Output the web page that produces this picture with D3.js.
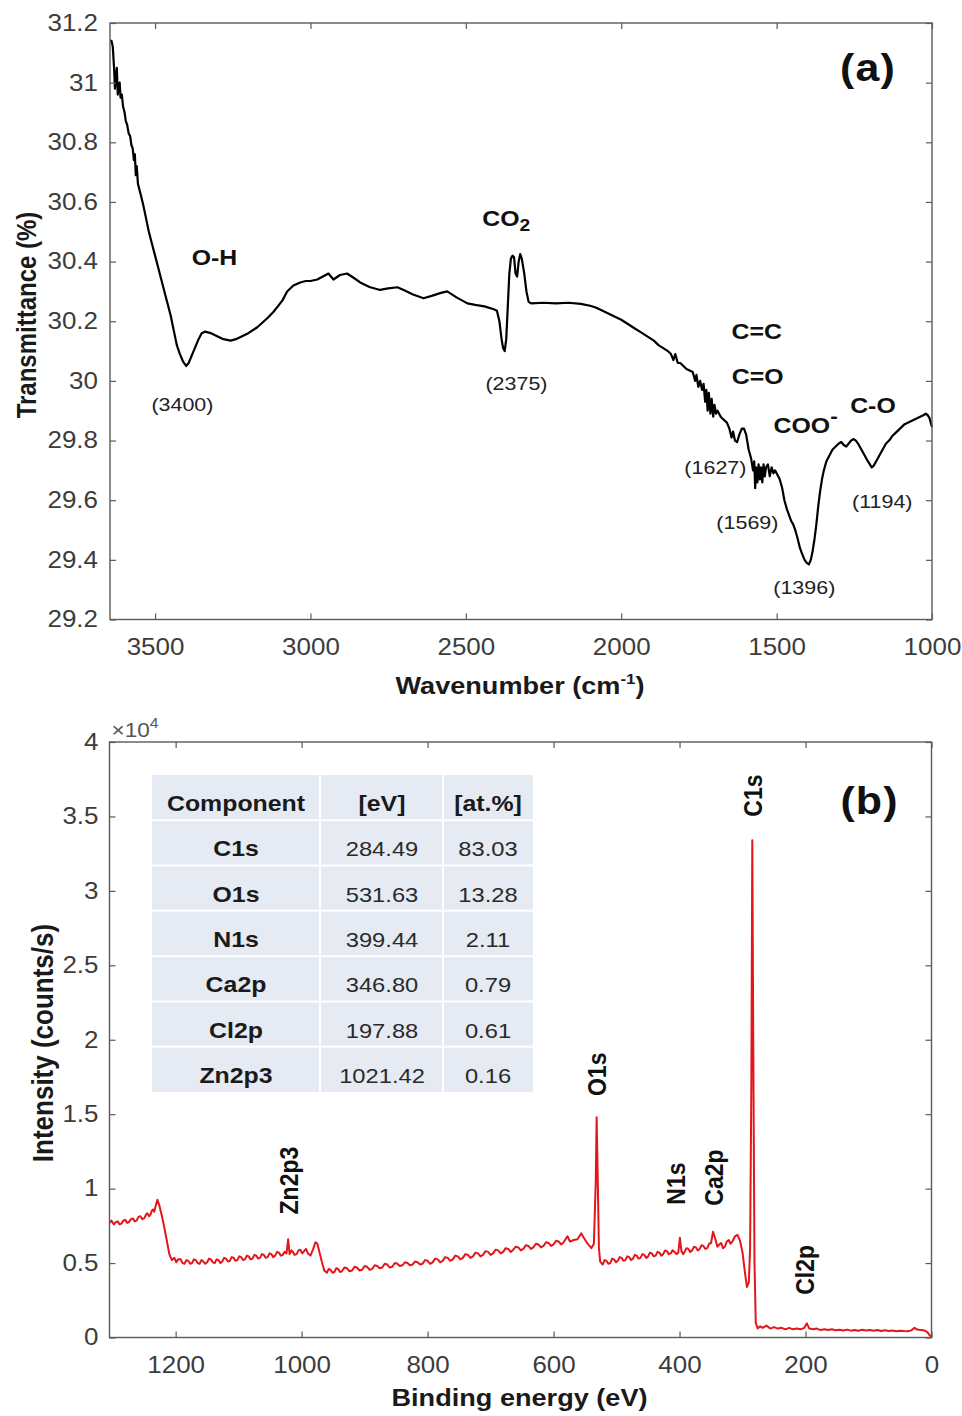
<!DOCTYPE html>
<html>
<head>
<meta charset="utf-8">
<script src="https://cdn.jsdelivr.net/npm/d3@7"></script>
<style>
  html, body { margin: 0; padding: 0; background: #fff; }
  svg { display: block; }
</style>
</head>
<body>
<svg id="fig" width="962" height="1416"></svg>
<script>
// ---------------- Panel (a): FTIR spectrum ----------------
// [wavenumber (cm-1), transmittance (%)]
const ftirSpectrum = [
  [3645,31.14],[3640,31.14],[3636,31.12],[3632,31.05],[3629,30.98],[3626,31.02],[3623,31.05],[3620,30.96],
  [3617,30.99],[3614,31.00],[3611,30.95],[3607,30.96],[3603,30.92],[3598,30.90],[3594,30.87],[3590,30.86],
  [3585,30.83],[3580,30.82],[3576,30.79],[3572,30.78],[3568,30.74],[3565,30.76],[3562,30.69],[3559,30.72],
  [3555,30.66],[3550,30.64],[3545,30.62],[3538,30.59],[3530,30.55],[3520,30.50],[3510,30.46],[3500,30.42],
  [3490,30.38],[3480,30.34],[3470,30.30],[3460,30.26],[3450,30.22],[3440,30.17],[3430,30.12],[3420,30.09],
  [3410,30.065],[3400,30.05],[3392,30.06],[3384,30.08],[3376,30.10],[3368,30.12],[3360,30.14],[3350,30.16],
  [3340,30.165],[3320,30.16],[3300,30.15],[3280,30.14],[3257,30.135],[3240,30.14],[3220,30.15],[3200,30.16],
  [3171,30.18],[3155,30.195],[3139,30.21],[3120,30.23],[3105,30.25],[3090,30.27],[3075,30.30],[3055,30.32],
  [3033,30.33],[3015,30.335],[3000,30.335],[2978,30.34],[2960,30.35],[2942,30.36],[2926,30.34],[2905,30.355],
  [2882,30.36],[2860,30.345],[2840,30.33],[2810,30.315],[2776,30.305],[2750,30.31],[2720,30.314],[2700,30.305],
  [2670,30.29],[2636,30.277],[2610,30.285],[2580,30.295],[2560,30.30],[2530,30.28],[2495,30.26],[2470,30.255],
  [2440,30.25],[2410,30.24],[2400,30.235],[2392,30.20],[2385,30.14],[2380,30.11],[2375,30.10],[2370,30.14],
  [2365,30.25],[2360,30.36],[2355,30.41],[2350,30.42],[2345,30.415],[2340,30.36],[2335,30.35],[2330,30.40],
  [2325,30.425],[2320,30.41],[2312,30.36],[2305,30.30],[2298,30.265],[2290,30.26],[2250,30.262],[2210,30.26],
  [2170,30.262],[2130,30.258],[2100,30.252],[2080,30.245],[2060,30.235],[2040,30.225],[2020,30.215],[2000,30.205],
  [1985,30.195],[1970,30.185],[1955,30.175],[1940,30.165],[1925,30.155],[1910,30.145],[1895,30.135],[1880,30.12],
  [1865,30.11],[1850,30.10],[1840,30.09],[1832,30.07],[1826,30.09],[1818,30.06],[1810,30.06],[1800,30.05],
  [1790,30.04],[1780,30.035],[1770,30.03],[1762,30.00],[1758,30.02],[1752,29.98],[1746,30.00],[1740,29.97],
  [1735,29.99],[1730,29.93],[1726,29.97],[1722,29.90],[1718,29.96],[1713,29.89],[1709,29.94],[1704,29.88],
  [1700,29.92],[1695,29.89],[1690,29.90],[1680,29.88],[1670,29.87],[1660,29.86],[1652,29.84],[1645,29.81],
  [1640,29.83],[1634,29.80],[1627,29.795],[1620,29.82],[1612,29.84],[1605,29.84],[1598,29.82],[1590,29.77],
  [1582,29.74],[1576,29.70],[1572,29.73],[1569,29.64],[1566,29.71],[1562,29.66],[1558,29.72],[1554,29.67],
  [1550,29.71],[1546,29.66],[1542,29.72],[1538,29.68],[1534,29.71],[1528,29.72],[1522,29.68],[1516,29.71],
  [1510,29.69],[1505,29.70],[1500,29.69],[1490,29.67],[1482,29.64],[1475,29.60],[1467,29.57],[1460,29.55],
  [1453,29.53],[1447,29.52],[1440,29.50],[1432,29.47],[1425,29.44],[1418,29.42],[1410,29.40],[1403,29.39],
  [1396,29.385],[1390,29.40],[1384,29.43],[1378,29.47],[1372,29.52],[1366,29.58],[1360,29.63],[1354,29.67],
  [1348,29.70],[1340,29.73],[1330,29.75],[1320,29.77],[1310,29.78],[1300,29.79],[1292,29.795],[1284,29.785],
  [1276,29.78],[1268,29.79],[1260,29.80],[1252,29.805],[1245,29.80],[1238,29.79],[1230,29.775],[1222,29.76],
  [1214,29.745],[1206,29.73],[1200,29.72],[1194,29.71],[1188,29.715],[1180,29.73],[1172,29.745],[1164,29.76],
  [1156,29.775],[1148,29.79],[1138,29.80],[1128,29.815],[1118,29.825],[1108,29.835],[1098,29.845],[1088,29.855],
  [1078,29.86],[1068,29.865],[1058,29.87],[1048,29.875],[1038,29.88],[1028,29.885],[1020,29.89],[1014,29.885],
  [1008,29.875],[1004,29.86],[1000,29.845]
];
const ftirXTicks = [3500, 3000, 2500, 2000, 1500, 1000];
const ftirYTicks = [29.2, 29.4, 29.6, 29.8, 30, 30.2, 30.4, 30.6, 30.8, 31, 31.2];
const ftirYTickLabels = ["29.2","29.4","29.6","29.8","30","30.2","30.4","30.6","30.8","31","31.2"];

// band assignments: [text, wavenumber, transmittance]
const ftirBandLabels = [
  ["O-H", 3309, 30.413],
  ["C=C", 1564, 30.166],
  ["C=O", 1561, 30.015],
  ["C-O", 1190, 29.918]
];
// peak positions: [text, wavenumber, transmittance]
const ftirPeakLabels = [
  ["(3400)", 3412, 29.921],
  ["(2375)", 2337, 29.992],
  ["(1627)", 1697, 29.710],
  ["(1569)", 1594, 29.526],
  ["(1396)", 1411, 29.307],
  ["(1194)", 1160, 29.596]
];

// ---------------- Panel (b): XPS survey ----------------
// [binding energy (eV), intensity (counts/s)]
const xpsSurvey = [
  [1305,7700],[1302,7850],[1298,7600],[1295,7750],[1292,7800],[1289,7600],[1286,7650],[1283,7850],
  [1280,7900],[1277,7700],[1274,7750],[1271,7950],[1268,8000],[1265,7800],[1262,7850],[1259,8100],
  [1256,8150],[1253,7950],[1250,8000],[1247,8250],[1245,8350],[1242,8150],[1240,8250],[1238,8500],
  [1236,8600],[1234,8450],[1232,8800],[1229,9250],[1226,8900],[1222,8200],[1218,7400],[1214,6500],
  [1210,5600],[1206,5200],[1202,5350],[1199,5050],[1196,5250],[1192,5250],[1189,5000],[1186,4950],
  [1183,5200],[1180,5150],[1177,4950],[1174,5000],[1171,5250],[1168,5200],[1165,5000],[1162,4950],
  [1159,5200],[1156,5100],[1153,4950],[1150,5050],[1147,5300],[1144,5250],[1141,5050],[1138,5000],
  [1135,5250],[1132,5200],[1129,5000],[1126,5100],[1123,5350],[1120,5300],[1117,5100],[1114,5150],
  [1111,5400],[1108,5350],[1105,5150],[1102,5200],[1099,5450],[1096,5400],[1093,5200],[1090,5250],
  [1087,5500],[1084,5450],[1081,5250],[1078,5300],[1075,5550],[1072,5500],[1069,5300],[1066,5350],
  [1063,5600],[1060,5550],[1057,5350],[1054,5400],[1051,5650],[1048,5600],[1045,5400],[1042,5500],
  [1039,5750],[1036,5700],[1033,5500],[1030,5550],[1027,5750],[1024,5650],[1021.42,6600],[1019,5600],
  [1016,5850],[1014,5750],[1011,5550],[1008,5600],[1005,5850],[1002,5900],[999,5650],[996,5800],
  [993,5950],[990,5650],[986,5500],[982,5900],[978,6400],[975,6300],[972,5800],[968,5100],
  [964,4500],[960,4350],[957,4600],[954,4550],[951,4350],[948,4400],[945,4650],[942,4600],
  [939,4400],[936,4450],[932,4700],[928,4650],[924,4450],[920,4500],[916,4750],[912,4700],
  [908,4500],[904,4550],[900,4800],[896,4750],[892,4550],[888,4600],[884,4850],[880,4800],
  [876,4650],[872,4700],[868,4950],[864,4900],[860,4700],[856,4750],[852,5000],[848,4950],
  [844,4800],[840,4850],[836,5050],[832,5000],[828,4850],[824,4900],[820,5100],[816,5050],
  [812,4900],[808,4950],[804,5200],[800,5150],[796,4950],[792,5050],[788,5300],[784,5250],
  [780,5050],[776,5150],[772,5400],[768,5350],[764,5150],[760,5250],[756,5500],[752,5450],
  [748,5250],[744,5350],[740,5600],[736,5550],[732,5350],[728,5450],[724,5700],[720,5650],
  [716,5450],[712,5550],[708,5800],[704,5750],[700,5550],[696,5650],[692,5900],[688,5850],
  [684,5650],[680,5750],[676,6000],[672,5950],[668,5750],[664,5900],[660,6100],[656,6050],
  [652,5850],[648,5950],[644,6200],[640,6150],[636,5950],[632,6050],[628,6300],[624,6250],
  [620,6050],[616,6150],[612,6400],[608,6350],[604,6150],[600,6250],[596,6500],[592,6450],
  [588,6250],[584,6400],[578,6800],[574,6450],[568,6550],[562,6600],[556,7000],[552,6700],
  [546,6300],[540,6000],[536,6300],[533,10500],[531.63,14800],[530,11000],[528,6000],[526,5100],
  [522,4900],[519,5200],[516,5150],[513,4950],[510,5000],[507,5300],[504,5250],[501,5050],
  [498,5150],[495,5400],[492,5350],[489,5150],[486,5200],[483,5450],[480,5400],[477,5200],
  [474,5300],[471,5550],[468,5500],[465,5300],[462,5350],[459,5600],[456,5550],[453,5350],
  [450,5450],[447,5700],[444,5650],[441,5450],[438,5500],[435,5750],[432,5700],[429,5500],
  [426,5600],[423,5850],[420,5800],[417,5600],[414,5650],[411,5850],[408,5750],[405,5600],
  [402,5700],[399.44,6700],[397,5800],[394,5600],[392,5750],[389,6000],[386,5950],[383,5750],
  [380,5850],[377,6100],[374,6050],[371,5850],[368,5950],[365,6200],[362,6150],[359,5950],
  [356,6000],[353,6300],[350,6350],[346.8,7100],[343,6600],[340,6100],[338,6200],[334,6350],
  [331,6000],[328,6100],[325,6450],[322,6550],[319,6300],[316,6450],[312,6800],[308,6900],
  [304,6500],[300,5700],[296,4300],[293,3400],[290,3700],[288,6000],[286,17000],[284.49,33400],
  [283,20000],[281,5000],[279,1000],[276,600],[272,750],[268,650],[262,800],[256,600],
  [250,700],[244,600],[238,650],[232,550],[226,650],[220,550],[214,600],[208,550],
  [202,650],[197.88,950],[194,600],[188,550],[182,600],[176,500],[170,550],[164,500],
  [158,550],[152,480],[146,520],[140,470],[134,530],[128,460],[122,500],[116,450],
  [110,520],[104,470],[98,500],[92,450],[86,500],[80,440],[74,490],[68,430],
  [62,470],[56,420],[50,460],[44,430],[38,420],[32,480],[27,650],[24,560],
  [20,520],[16,500],[10,450],[6,330],[3,150],[0,50]
];
const xpsXTicks = [1200, 1000, 800, 600, 400, 200, 0];
const xpsYTicks = [0, 5000, 10000, 15000, 20000, 25000, 30000, 35000, 40000];
const xpsYTickLabels = ["0","0.5","1","1.5","2","2.5","3","3.5","4"];

// composition table
const tableHeader = ["Component", "[eV]", "[at.%]"];
const components = ["C1s", "O1s", "N1s", "Ca2p", "Cl2p", "Zn2p3"];
const bindingEnergy = ["284.49", "531.63", "399.44", "346.80", "197.88", "1021.42"];
const atomicPercent = ["83.03", "13.28", "2.11", "0.79", "0.61", "0.16"];

// peak name labels placed above each line: [component, intensity at label centre]
const xpsPeakLabels = [
  ["C1s", 36400],
  ["O1s", 17680],
  ["Zn2p3", 10540],
  ["N1s", 10340],
  ["Ca2p", 10740],
  ["Cl2p", 4545]
];

// ---------------- drawing ----------------
const FONT = '"Liberation Sans", Arial, Helvetica, sans-serif';
const SX = 1.13;               // horizontal glyph widening used for all lettering
const AXIS_COLOR = "#5a5a5a";
const TICK_TEXT = "#3c3c3c";
const svg = d3.select("#fig");
svg.append("rect").attr("width", 962).attr("height", 1416).attr("fill", "#fff");

// text helper: parts = [{t, size, dy}] for sub/superscripts
function addText(parent, x, y, parts, o = {}) {
  const g = parent.append("g")
    .attr("transform", `translate(${x},${y}) scale(${SX},1)` + (o.rotate ? ` rotate(${o.rotate})` : ""));
  const t = g.append("text")
    .attr("font-family", FONT)
    .attr("font-size", o.size || 20)
    .attr("font-weight", o.bold ? "bold" : "normal")
    .attr("fill", o.color || "#111")
    .attr("text-anchor", o.anchor || "middle")
    .attr("dominant-baseline", o.baseline || "auto")
    .attr("letter-spacing", o.spacing || 0);
  if (typeof parts === "string") parts = [{ t: parts }];
  parts.forEach(p => {
    const s = t.append("tspan").text(p.t);
    if (p.size) s.attr("font-size", p.size);
    if (p.dy) s.attr("dy", p.dy);
  });
  return g;
}

function drawFrame(box, x, y, xTicks, yTicks, yLabels, pad) {
  const g = svg.append("g");
  const tick = 6;
  const styleTicks = sel => {
    sel.select(".domain").remove();
    sel.selectAll(".tick line").attr("stroke", AXIS_COLOR).attr("stroke-width", 1.2);
    sel.selectAll(".tick text")
      .attr("font-family", FONT).attr("font-size", 23).attr("fill", TICK_TEXT);
  };
  const bottom = g.append("g").attr("transform", `translate(0,${box.bottom})`)
    .call(d3.axisBottom(x).tickValues(xTicks).tickFormat(d3.format("d"))
      .tickSizeInner(-tick).tickSizeOuter(0).tickPadding(pad.bottom))
    .call(styleTicks);
  bottom.selectAll(".tick text").attr("transform", `scale(${SX},1)`);

  g.append("g").attr("transform", `translate(0,${box.top})`)
    .call(d3.axisTop(x).tickValues(xTicks).tickFormat("").tickSizeInner(-tick).tickSizeOuter(0))
    .call(styleTicks);

  const left = g.append("g").attr("transform", `translate(${box.left},0)`)
    .call(d3.axisLeft(y).tickValues(yTicks).tickFormat((d, i) => yLabels[i])
      .tickSizeInner(-tick).tickSizeOuter(0).tickPadding(pad.left))
    .call(styleTicks);
  left.selectAll(".tick text")
    .attr("x", -pad.left / SX)
    .attr("transform", `scale(${SX},1)`);

  g.append("g").attr("transform", `translate(${box.right},0)`)
    .call(d3.axisRight(y).tickValues(yTicks).tickFormat("").tickSizeInner(-tick).tickSizeOuter(0))
    .call(styleTicks);

  g.append("rect")
    .attr("x", box.left).attr("y", box.top)
    .attr("width", box.right - box.left).attr("height", box.bottom - box.top)
    .attr("fill", "none").attr("stroke", AXIS_COLOR).attr("stroke-width", 1.4);
  return g;
}

// ---- panel (a)
const boxA = { left: 110, right: 932, top: 23, bottom: 619.5 };
const xA = d3.scaleLinear().domain([3645, 1000]).range([boxA.left, boxA.right]);
const yA = d3.scaleLinear().domain([29.2, 31.2]).range([boxA.bottom, boxA.top]);

svg.append("path")
  .datum(ftirSpectrum)
  .attr("fill", "none")
  .attr("stroke", "#000")
  .attr("stroke-width", 2.2)
  .attr("stroke-linejoin", "round")
  .attr("d", d3.line().x(d => xA(d[0])).y(d => yA(d[1])));

drawFrame(boxA, xA, yA, ftirXTicks, ftirYTicks, ftirYTickLabels, { bottom: 19, left: 12 });

const annA = svg.append("g");
ftirBandLabels.forEach(([t, wn, tr]) =>
  addText(annA, xA(wn), yA(tr), t, { size: 22, bold: true, baseline: "central" }));
addText(annA, xA(2447), yA(30.544), [{ t: "CO" }, { t: "2", size: 17, dy: 7 }],
  { size: 22, bold: true, anchor: "start", baseline: "central" });
addText(annA, xA(1510), yA(29.851), [{ t: "COO" }, { t: "-", size: 20, dy: -9 }],
  { size: 22, bold: true, anchor: "start", baseline: "central" });
ftirPeakLabels.forEach(([t, wn, tr]) =>
  addText(annA, xA(wn), yA(tr), t, { size: 19, color: "#222", baseline: "central" }));
addText(annA, boxA.right - 64, boxA.top + 45, "(a)", { size: 38, bold: true, baseline: "central", spacing: 1 });

addText(svg, (boxA.left + boxA.right) / 2 - 1, 694,
  [{ t: "Wavenumber (cm" }, { t: "-1", size: 15, dy: -10 }, { t: ")", dy: 10 }],
  { size: 24, bold: true, color: "#1a1a1a" });
addText(svg, 36, 315, "Transmittance (%)", { size: 24, bold: true, rotate: -90, color: "#1a1a1a" });

// ---- panel (b)
const boxB = { left: 109.5, right: 931.5, top: 742, bottom: 1337.5 };
const xB = d3.scaleLinear().domain([1305, 0]).range([boxB.left, boxB.right]);
const yB = d3.scaleLinear().domain([0, 40000]).range([boxB.bottom, boxB.top]);

// composition table (drawn beneath the spectrum frame)
const tbl = svg.append("g");
const rowKeys = ["header"].concat(components);
const rowBand = d3.scaleBand().domain(rowKeys).range([775, 1092]);
const colEdges = [152, 320, 443, 533];
tbl.append("rect")
  .attr("x", colEdges[0]).attr("y", rowBand.range()[0])
  .attr("width", colEdges[3] - colEdges[0]).attr("height", rowBand.range()[1] - rowBand.range()[0])
  .attr("fill", "#e5eaf3");
rowKeys.slice(1).forEach(k =>
  tbl.append("line").attr("x1", colEdges[0]).attr("x2", colEdges[3])
    .attr("y1", rowBand(k)).attr("y2", rowBand(k)).attr("stroke", "#fff").attr("stroke-width", 2));
[colEdges[1], colEdges[2]].forEach(cx =>
  tbl.append("line").attr("x1", cx).attr("x2", cx)
    .attr("y1", rowBand.range()[0]).attr("y2", rowBand.range()[1]).attr("stroke", "#fff").attr("stroke-width", 2));
const colCentres = [236, 382, 488];
const rowText = k => rowBand(k) + rowBand.bandwidth() / 2 + 6;
tableHeader.forEach((h, j) =>
  addText(tbl, colCentres[j], rowText("header"), h, { size: 22, bold: true, baseline: "central", color: "#1a1a1a" }));
components.forEach((c, i) => {
  addText(tbl, colCentres[0], rowText(c), c, { size: 22, bold: true, baseline: "central", color: "#1a1a1a" });
  addText(tbl, colCentres[1], rowText(c), bindingEnergy[i], { size: 21, baseline: "central", color: "#2a2a2a" });
  addText(tbl, colCentres[2], rowText(c), atomicPercent[i], { size: 21, baseline: "central", color: "#2a2a2a" });
});

svg.append("path")
  .datum(xpsSurvey)
  .attr("fill", "none")
  .attr("stroke", "#e3161b")
  .attr("stroke-width", 2)
  .attr("stroke-linejoin", "round")
  .attr("d", d3.line().x(d => xB(d[0])).y(d => yB(d[1])));

drawFrame(boxB, xB, yB, xpsXTicks, xpsYTicks, xpsYTickLabels, { bottom: 19, left: 11 });

addText(svg, boxB.left + 2, 737, [{ t: "\u00d710" }, { t: "4", size: 14, dy: -9 }],
  { size: 20, color: "#555", anchor: "start" });

const annB = svg.append("g");
const nudge = { N1s: -4, Cl2p: -2 };
xpsPeakLabels.forEach(([name, at]) => {
  const be = +bindingEnergy[components.indexOf(name)];
  addText(annB, xB(be) + (nudge[name] || 0), yB(at), name,
    { size: 23, bold: true, rotate: -90, baseline: "central", color: "#111" });
});
addText(annB, boxB.right - 62, boxB.top + 59, "(b)", { size: 38, bold: true, baseline: "central", spacing: 1 });

addText(svg, (boxB.left + boxB.right) / 2 - 1, 1406, "Binding energy (eV)",
  { size: 24, bold: true, color: "#1a1a1a" });
addText(svg, 53, 1043, "Intensity (counts/s)", { size: 26, bold: true, rotate: -90, color: "#1a1a1a" });
</script>
</body>
</html>
